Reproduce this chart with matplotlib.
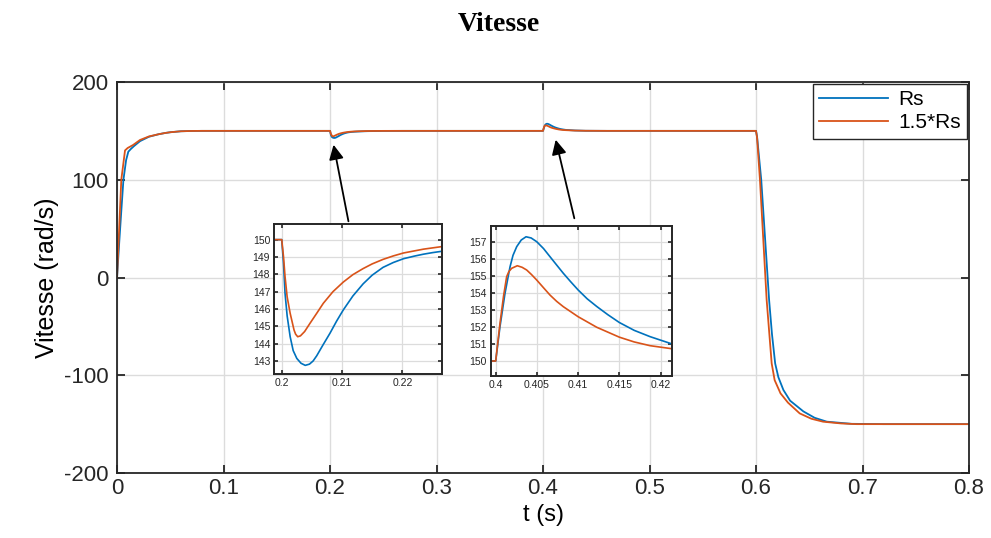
import numpy as np
import matplotlib
matplotlib.use('Agg')
import matplotlib.pyplot as plt

plt.rcParams['font.family'] = ['Liberation Sans', 'DejaVu Sans']
plt.rcParams['axes.unicode_minus'] = False

# Rs
t_rs = [0, 0.002, 0.004, 0.006, 0.0085, 0.0106, 0.013, 0.016, 0.0216, 0.03, 0.0388, 0.045, 0.05, 0.06, 0.07, 0.08,
        0.2, 0.2003, 0.20055, 0.2009, 0.2014, 0.2019, 0.2025, 0.2032, 0.2039, 0.2046, 0.2052, 0.2058, 0.2068,
        0.208, 0.2091, 0.2102, 0.2118, 0.2135, 0.215, 0.2168, 0.2185, 0.2202, 0.222, 0.2235, 0.225, 0.2266,
        0.23, 0.235, 0.25, 0.27,
        0.4, 0.40052, 0.40113, 0.40174, 0.4021, 0.40255, 0.4031, 0.40368, 0.4043, 0.40498, 0.4058, 0.40659,
        0.4074, 0.4082, 0.4091, 0.41, 0.4111, 0.41226, 0.4136, 0.415, 0.4168, 0.41873, 0.4214,
        0.43, 0.44, 0.46,
        0.6, 0.601, 0.6049, 0.6123, 0.615, 0.618, 0.621, 0.6257, 0.632, 0.6445, 0.655, 0.6665, 0.69, 0.72, 0.8]
w_rs = [0, 35, 68, 100, 120, 128.7, 131.5, 134.5, 139.5, 144, 146.5, 147.8, 148.6, 149.6, 149.9, 150,
        150, 148.6, 146.9, 145.6, 144.4, 143.6, 143.15, 142.87, 142.75, 142.82, 143.0, 143.3, 143.9,
        144.6, 145.3, 145.94, 146.75, 147.45, 147.95, 148.4, 148.68, 148.9, 149.05, 149.16, 149.25, 149.33,
        149.5, 149.7, 149.95, 150,
        150, 152.01, 153.97, 155.53, 156.2, 156.71, 157.1, 157.29, 157.22, 157.0, 156.6, 156.12,
        155.63, 155.15, 154.65, 154.17, 153.65, 153.2, 152.72, 152.26, 151.8, 151.43, 151.0,
        150.4, 150.1, 150,
        150, 144, 100, -23, -58, -88, -102, -115, -126, -137, -143.5, -147.5, -149.7, -150, -150]

# 1.5*Rs
t_rs15 = [0, 0.004, 0.0075, 0.01, 0.015, 0.0216, 0.03, 0.0388, 0.045, 0.05, 0.06, 0.07, 0.08,
          0.2, 0.2003, 0.20055, 0.2009, 0.2014, 0.20204, 0.2023, 0.20265, 0.2031, 0.2038, 0.2047, 0.2058,
          0.2069, 0.2085, 0.2102, 0.2118, 0.2135, 0.215, 0.2168, 0.2185, 0.2202, 0.2235, 0.2266,
          0.23, 0.235, 0.25, 0.27,
          0.4, 0.40052, 0.40095, 0.40133, 0.4016, 0.40194, 0.40262, 0.4032, 0.40376, 0.40435, 0.40498, 0.4058,
          0.40659, 0.4074, 0.4082, 0.41, 0.41226, 0.415, 0.4168, 0.41873, 0.4214,
          0.43, 0.44, 0.46,
          0.6, 0.601, 0.6037, 0.61, 0.6147, 0.6175, 0.623, 0.63, 0.641, 0.652, 0.663, 0.68, 0.6945, 0.8]
w_rs15 = [0, 100, 130, 132.5, 135.5, 140.7, 144.3, 146.5, 147.8, 148.6, 149.6, 149.9, 150,
          150, 149.0, 147.87, 146.7, 145.75, 144.79, 144.55, 144.4, 144.45, 144.7, 145.18, 145.75,
          146.33, 147.0, 147.55, 147.98, 148.33, 148.6, 148.86, 149.06, 149.23, 149.45, 149.6,
          149.7, 149.85, 149.97, 150,
          150, 152.21, 153.8, 154.95, 155.25, 155.44, 155.59, 155.5, 155.34, 155.07, 154.75, 154.3,
          153.87, 153.5, 153.19, 152.6, 151.98, 151.4, 151.12, 150.9, 150.72,
          150.3, 150.1, 150,
          150, 143, 100, -23, -87.8, -105, -118.5, -128, -139, -144.5, -147.5, -149.3, -150, -150]

x_ticks = [0, 0.1, 0.2, 0.3, 0.4, 0.5, 0.6, 0.7, 0.8]
x_labels = ['0', '0.1', '0.2', '0.3', '0.4', '0.5', '0.6', '0.7', '0.8']
y_ticks = [-200, -100, 0, 100, 200]

in1_xticks = [0.2, 0.21, 0.22]
in1_xlabels = ['0.2', '0.21', '0.22']
in1_yticks = [143, 144, 145, 146, 147, 148, 149, 150]
in2_xticks = [0.4, 0.405, 0.41, 0.415, 0.42]
in2_xlabels = ['0.4', '0.405', '0.41', '0.415', '0.42']
in2_yticks = [150, 151, 152, 153, 154, 155, 156, 157]

blue = '#0072BD'
orange = '#D95319'

fig = plt.figure(figsize=(9.91, 5.38), dpi=100)
ax = fig.add_axes([0.1181, 0.1208, 0.8597, 0.7268])
ax.plot(t_rs, w_rs, color=blue, lw=1.3, label='Rs')
ax.plot(t_rs15, w_rs15, color=orange, lw=1.3, label='1.5*Rs')
ax.set_xlim(0, 0.8)
ax.set_ylim(-200, 200)
ax.set_xticks(x_ticks)
ax.set_xticklabels(x_labels)
ax.set_yticks(y_ticks)
ax.grid(True, color='#dcdcdc', lw=1)
ax.tick_params(direction='in', top=True, right=True, length=6, width=1.3, labelsize=16, colors='#262626')
ax.tick_params(axis='y', pad=6)
for s in ax.spines.values():
    s.set_linewidth(1.3)
    s.set_color('#262626')
ax.set_xlabel('t (s)', fontsize=17, labelpad=4)
ax.set_ylabel('Vitesse (rad/s)', fontsize=18, labelpad=4)
fig.text(0.503, 0.955, 'Vitesse', family='Liberation Serif', weight='bold', fontsize=20,
         ha='center', va='center')

leg = ax.legend(loc='upper right', fontsize=15, fancybox=False, framealpha=1, edgecolor='#262626',
                borderaxespad=0.1, handlelength=3.3, borderpad=0.3, labelspacing=0.2, handletextpad=0.5)
leg.get_frame().set_linewidth(1.0)

# arrows pointing at the disturbances
ax.annotate('', xy=(0.2028, 138.6), xytext=(0.2178, 54.7),
            arrowprops=dict(arrowstyle='-|>', mutation_scale=22, lw=1.3, color='k'))
ax.annotate('', xy=(0.4113, 143.7), xytext=(0.43, 57.8),
            arrowprops=dict(arrowstyle='-|>', mutation_scale=22, lw=1.3, color='k'))


def inset(rect, xlim, ylim, xt, xl, yt):
    a = fig.add_axes(rect)
    a.plot(t_rs, w_rs, color=blue, lw=1.2)
    a.plot(t_rs15, w_rs15, color=orange, lw=1.2)
    a.set_xlim(*xlim)
    a.set_ylim(*ylim)
    a.set_xticks(xt)
    a.set_xticklabels(xl)
    a.set_yticks(yt)
    a.grid(True, color='#dcdcdc', lw=0.9)
    a.tick_params(direction='in', top=True, right=True, length=3, width=1.2, labelsize=7.5, colors='#262626',
                  pad=3)
    for s in a.spines.values():
        s.set_linewidth(1.4)
        s.set_color('#262626')
    return a


inset([0.2768, 0.3048, 0.1692, 0.2788], (0.19877, 0.22658), (142.25, 150.9), in1_xticks, in1_xlabels, in1_yticks)
inset([0.4952, 0.3017, 0.183, 0.2788], (0.3994, 0.4214), (149.14, 157.94), in2_xticks, in2_xlabels, in2_yticks)

fig.savefig('out.png', dpi=100)
